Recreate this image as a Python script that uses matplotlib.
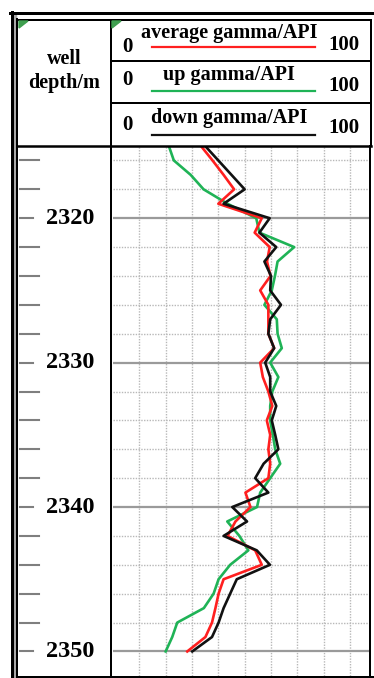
#!/usr/bin/env python3
"""Gamma log strip: average, up and down gamma curves against well depth."""

import matplotlib
matplotlib.use("Agg")
import matplotlib.pyplot as plt
from matplotlib.lines import Line2D
from matplotlib.patches import Polygon, Rectangle


PNG_NAME = "out.png"
FIG_W, FIG_H = 374, 678  # pixels
DPI = 100

SERIF = ["Liberation Serif", "DejaVu Serif"]

depth_m = list(range(2315, 2351))

average_gamma = [
    33.4, 37.8, 42.0, 46.0, 40.0, 56.5, 53.8, 59.5, 58.5, 59.8,
    55.9, 59.0, 59.0, 59.0, 61.2, 55.9, 56.9, 59.0, 60.5, 58.4,
    59.7, 59.0, 59.7, 59.0, 50.3, 52.2, 46.5, 43.5, 54.0, 56.5,
    42.0, 40.1, 38.9, 37.6, 35.1, 28.2,
]
up_gamma = [
    21.2, 23.1, 29.5, 34.4, 43.5, 54.4, 55.6, 68.8, 62.5, 61.5,
    60.3, 57.5, 62.2, 62.5, 64.1, 59.7, 62.8, 60.5, 59.7, 59.7,
    60.7, 61.6, 63.5, 59.7, 55.9, 54.7, 43.4, 48.0, 51.4, 44.5,
    40.1, 38.2, 34.5, 24.4, 22.5, 20.0,
]
down_gamma = [
    35.0, 40.0, 45.0, 50.0, 42.0, 59.5, 55.6, 62.0, 57.5, 60.0,
    59.7, 63.8, 59.7, 59.0, 61.2, 57.8, 59.7, 59.7, 62.0, 60.3,
    61.6, 62.8, 57.2, 54.0, 59.0, 45.3, 50.9, 42.0, 54.6, 59.6,
    47.0, 44.5, 42.0, 40.1, 37.6, 30.1,
]

curve_names = ["average gamma/API", "up gamma/API", "down gamma/API"]
curve_colors = ["#ff1f1f", "#1fb356", "#111111"]
scale_left, scale_right = 0, 100

depth_labels = [2320, 2330, 2340, 2350]
minor_depths = list(range(2316, 2351, 2))
gamma_grid = list(range(10, 100, 10))

DEPTH_TOP, DEPTH_BOTTOM = 2315.0, 2351.7
GAMMA_MAX = 97.6


def fx(x):
    return x / FIG_W


def fy(y):
    return 1 - y / FIG_H


def fig_line(fig, x0, y0, x1, y1, lw=2.0, color="black"):
    fig.add_artist(Line2D([fx(x0), fx(x1)], [fy(y0), fy(y1)],
                          transform=fig.transFigure, color=color, zorder=6,
                          linewidth=lw * 72 / DPI, solid_capstyle="projecting"))


def main():
    plt.rcParams["font.family"] = SERIF
    plt.rcParams["font.weight"] = "bold"

    fig = plt.figure(figsize=(FIG_W / DPI, FIG_H / DPI), dpi=DPI)
    fig.patch.set_facecolor("white")

    # curve track
    track_x0, track_x1 = 113, 370
    track_y0, track_y1 = 146, 676
    ax = fig.add_axes([fx(track_x0), fy(track_y1),
                       (track_x1 - track_x0) / FIG_W, (track_y1 - track_y0) / FIG_H])
    ax.set_xlim(scale_left, GAMMA_MAX)
    ax.set_ylim(DEPTH_BOTTOM, DEPTH_TOP)
    ax.axis("off")

    for g in gamma_grid:
        ax.axvline(g, color="#b8b8b8", linewidth=1.0, linestyle=(0, (1.0, 1.0)), zorder=1)
    for d in minor_depths:
        if d in depth_labels:
            ax.axhline(d, color="#9a9a9a", linewidth=1.6, zorder=1)
        else:
            ax.axhline(d, color="#b8b8b8", linewidth=1.0, linestyle=(0, (1.0, 1.0)), zorder=1)

    for values, color in zip([up_gamma, average_gamma, down_gamma],
                             [curve_colors[1], curve_colors[0], curve_colors[2]]):
        ax.plot(values, depth_m, color=color, linewidth=1.9, zorder=3)

    # depth track
    dax = fig.add_axes([fx(18), fy(track_y1), (111 - 18) / FIG_W,
                        (track_y1 - track_y0) / FIG_H])
    dax.set_xlim(18, 111)
    dax.set_ylim(DEPTH_BOTTOM, DEPTH_TOP)
    dax.axis("off")
    for d in minor_depths:
        right = 33 if d in depth_labels else 39
        dax.plot([20, right], [d, d], color="#7f7f7f", linewidth=1.5)
    for d in depth_labels:
        dax.text(70, d, str(d), ha="center", va="center", fontsize=17.5,
                 fontweight="bold", color="black")

    # frame: double line on the left with a grey gap
    fig.add_artist(Rectangle((fx(13), fy(678)), fx(3), fy(13) - fy(678),
                             transform=fig.transFigure, color="#a8a8a8", zorder=1))
    fig_line(fig, 11.5, 12, 11.5, 678, lw=3)
    fig_line(fig, 17, 19, 17, 678, lw=2)
    fig_line(fig, 10, 13, 374, 13, lw=3)
    fig_line(fig, 17, 20, 371, 20, lw=2)
    fig_line(fig, 111, 20, 111, 678, lw=2)
    fig_line(fig, 371, 20, 371, 146, lw=2)
    fig_line(fig, 370, 146, 370, 678, lw=2)
    fig_line(fig, 17, 146, 371, 146, lw=2.5)
    fig_line(fig, 111, 61, 371, 61, lw=2)
    fig_line(fig, 111, 103, 371, 103, lw=2)
    fig_line(fig, 17, 676.5, 374, 676.5, lw=2)

    # small green corner marks
    for (x0, y0) in [(19, 21), (112, 21)]:
        tri = Polygon([(fx(x0), fy(y0)), (fx(x0 + 9), fy(y0)), (fx(x0), fy(y0 + 7))],
                      closed=True, transform=fig.transFigure, color="#3f9f4f", zorder=7)
        fig.add_artist(tri)

    # header
    fig.text(fx(64), fy(59), "well", ha="center", va="center", fontsize=14.5,
             fontweight="bold")
    fig.text(fx(64), fy(83), "depth/m", ha="center", va="center", fontsize=14.5,
             fontweight="bold")

    rows = [(33, 47, 47, 45), (75, 91, 80, 86), (118, 135, 125, 128)]
    zero_x = [127, 127, 127]
    for name, color, (label_y, line_y, zero_y, max_y), zx in zip(
            curve_names, curve_colors, rows, zero_x):
        fig.text(fx(229), fy(label_y), name, ha="center", va="center",
                 fontsize=14.5, fontweight="bold")
        fig.add_artist(Line2D([fx(152), fx(315)], [fy(line_y), fy(line_y)],
                              transform=fig.transFigure, color=color, linewidth=1.6))
        fig.text(fx(zx), fy(zero_y), str(scale_left), ha="center", va="center",
                 fontsize=15, fontweight="bold")
        fig.text(fx(344), fy(max_y), str(scale_right), ha="center", va="center",
                 fontsize=15, fontweight="bold")

    fig.savefig(PNG_NAME, dpi=DPI)
    plt.close(fig)


if __name__ == "__main__":
    main()
